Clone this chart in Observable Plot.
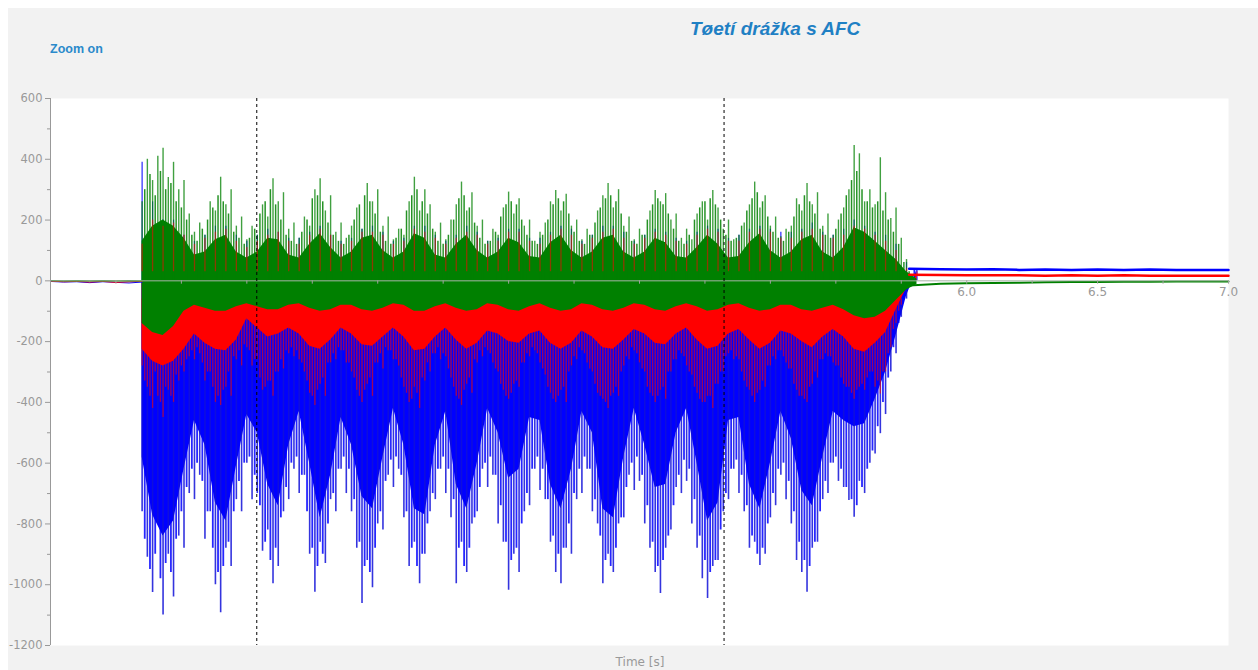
<!DOCTYPE html>
<html><head><meta charset="utf-8">
<script src="https://cdn.jsdelivr.net/npm/d3@7"></script>
<script src="https://cdn.jsdelivr.net/npm/@observablehq/plot@0.6"></script>
<style>
body{margin:0;background:#fff;}
#bg{position:absolute;left:8px;top:8px;width:1250px;height:662px;background:#f2f2f2;}
#title{position:absolute;left:690px;top:19px;font:italic bold 19px "Liberation Sans",Arial,sans-serif;color:#1f80c4;line-height:19px;white-space:nowrap;}
#zoom{position:absolute;left:50px;top:43px;font:bold 12.5px "Liberation Sans",Arial,sans-serif;color:#2b8acb;line-height:12.5px;white-space:nowrap;}
#xlabel{position:absolute;left:540px;width:200px;top:656px;text-align:center;font:12px "DejaVu Sans",sans-serif;color:#999;line-height:12px;}
#chart{position:absolute;left:8px;top:78px;}
</style></head><body>
<div id="bg"></div>
<div id="title">Tøetí drážka s AFC</div>
<div id="zoom">Zoom on</div>
<div id="chart"></div>
<div id="xlabel">Time [s]</div>
<script>
// sampling grids (seconds)
const fineStart = 2.85, fineStep = 0.02;   // first spike set
const fine2Start = 2.86;                    // second spike set, same step
const coarseStart = 2.85, coarseStep = 0.04;
const preStart = 2.5, preStep = 0.05;
const tailTimes = [5.78,5.9,6.0,6.1,6.2,6.3,6.4,6.5,6.6,6.7,6.8,6.9,7.0];

// green series: upward spike tips
const greenHi = [
 260,400,330,410,436,340,390,300,330,220,
 160,190,150,260,230,341,250,300,180,210,
 135,180,150,250,210,336,260,290,170,190,
 140,210,180,300,336,230,280,160,190,140,
 180,240,170,320,260,300,180,210,135,170,
 150,260,341,230,300,250,160,190,135,200,
 250,325,230,290,180,200,130,170,150,240,
 292,220,270,180,200,130,160,190,260,297,
 230,285,180,200,135,170,150,230,280,320,
 240,300,180,210,135,170,150,230,297,260,
 287,200,220,140,170,135,220,260,200,297,
 240,170,200,135,150,190,250,325,240,280,
 180,210,145,170,180,270,230,320,250,290,
 180,220,150,200,240,300,445,418,260,300,
 250,405,290,205,240,140,70,20];
const greenHi2 = [
 300,350,280,360,300,320,260,240,200,150,
 130,170,200,240,280,260,220,160,140,120,
 140,170,220,260,300,250,200,150,130,120,
 160,200,270,280,260,190,150,130,120,150,
 200,250,280,260,220,160,130,120,140,170,
 230,280,300,260,220,170,130,120,150,200,
 270,280,240,190,140,120,130,160,210,250,
 260,250,200,150,130,120,150,200,250,270,
 260,220,160,130,120,150,190,240,270,280,
 260,220,160,130,120,150,200,250,270,250,
 220,170,130,120,150,200,240,260,270,250,
 200,150,130,140,180,230,270,290,260,210,
 160,140,130,160,210,250,280,260,220,170,
 150,140,170,220,280,330,360,300,260,240,
 260,230,200,160,120,60,30,10];
// red series: downward spike tips
const redLo = [
 -280,-350,-420,-380,-450,-360,-400,-330,-300,-250,
 -260,-240,-330,-300,-400,-410,-350,-380,-260,-280,
 -220,-280,-260,-360,-330,-380,-300,-290,-240,-250,
 -260,-300,-370,-410,-340,-380,-270,-260,-230,-270,
 -300,-360,-400,-340,-380,-270,-290,-230,-260,-280,
 -350,-400,-350,-420,-330,-300,-240,-260,-250,-320,
 -380,-410,-340,-370,-270,-250,-230,-270,-300,-360,
 -390,-340,-350,-270,-250,-230,-270,-310,-370,-400,
 -360,-400,-280,-260,-230,-270,-300,-370,-390,-420,
 -370,-380,-280,-260,-230,-270,-300,-370,-400,-360,
 -390,-300,-260,-240,-280,-310,-370,-400,-380,-420,
 -340,-300,-240,-260,-260,-330,-360,-400,-360,-350,
 -280,-260,-230,-270,-290,-360,-380,-400,-340,-320,
 -260,-250,-270,-280,-340,-350,-390,-350,-360,-300,
 -350,-372,-300,-220,-140,-80,-30,18];
const redLo2 = [
 -330,-380,-300,-400,-350,-380,-310,-280,-260,-230,
 -220,-270,-300,-350,-380,-360,-300,-250,-230,-210,
 -230,-260,-320,-350,-330,-300,-260,-230,-220,-230,
 -270,-330,-380,-360,-320,-270,-240,-220,-230,-270,
 -320,-380,-360,-320,-270,-240,-220,-230,-260,-320,
 -370,-390,-370,-320,-270,-240,-220,-240,-290,-350,
 -390,-360,-320,-260,-230,-220,-240,-290,-340,-380,
 -370,-330,-270,-240,-220,-240,-290,-350,-390,-380,
 -350,-300,-250,-220,-240,-290,-340,-380,-400,-380,
 -350,-300,-250,-220,-240,-290,-350,-380,-380,-350,
 -300,-260,-230,-250,-300,-350,-390,-400,-380,-340,
 -300,-250,-230,-250,-300,-350,-380,-370,-330,-280,
 -250,-230,-250,-290,-340,-380,-390,-350,-300,-260,
 -240,-250,-280,-320,-350,-370,-360,-340,-320,-300,
 -330,-300,-240,-160,-100,-50,10,17];
// blue series: downward spike tips
const blueLo = [
 -760,-910,-1026,-800,-1100,-900,-1040,-840,-880,-700,
 -720,-640,-850,-760,-1000,-1092,-880,-940,-720,-760,
 -600,-720,-700,-890,-820,-997,-940,-760,-720,-620,
 -700,-640,-900,-1025,-860,-930,-720,-760,-620,-700,
 -760,-880,-1062,-920,-1010,-800,-820,-640,-680,-620,
 -780,-940,-860,-997,-900,-760,-720,-620,-700,-780,
 -997,-860,-960,-800,-760,-620,-680,-640,-800,-860,
 -1018,-900,-960,-760,-740,-620,-690,-720,-860,-960,
 -997,-880,-900,-720,-700,-620,-760,-800,-997,-900,
 -960,-800,-780,-640,-690,-660,-800,-880,-960,-1029,
 -880,-820,-680,-700,-660,-800,-880,-980,-1045,-940,
 -920,-760,-720,-620,-700,-760,-880,-860,-937,-900,
 -780,-740,-640,-720,-800,-920,-960,-1025,-880,-860,
 -720,-700,-600,-660,-680,-723,-778,-660,-700,-600,
 -570,-503,-440,-300,-240,-120,-60,20];
const blueLo2 = [
 -850,-950,-900,-980,-930,-960,-850,-760,-680,-620,
 -600,-660,-760,-880,-960,-940,-860,-760,-660,-600,
 -580,-640,-740,-860,-920,-880,-780,-680,-600,-580,
 -640,-760,-880,-940,-900,-800,-700,-620,-580,-620,
 -720,-860,-940,-960,-880,-760,-660,-590,-580,-640,
 -760,-880,-940,-900,-800,-700,-620,-580,-620,-720,
 -880,-940,-880,-780,-680,-600,-580,-640,-740,-860,
 -920,-880,-800,-700,-620,-580,-620,-720,-840,-900,
 -880,-800,-700,-620,-580,-620,-720,-840,-920,-940,
 -880,-780,-680,-600,-580,-640,-740,-860,-940,-920,
 -840,-740,-640,-590,-620,-720,-840,-920,-960,-920,
 -820,-700,-620,-590,-640,-740,-840,-900,-880,-800,
 -700,-620,-600,-660,-760,-860,-920,-940,-860,-760,
 -660,-600,-580,-620,-680,-720,-740,-680,-620,-560,
 -480,-400,-320,-220,-140,-60,20,36];

// dense cores (coarse grid)
const greenCoreHi = [
 130,180,200,180,140,85,95,135,150,95,
 75,95,140,135,85,75,120,155,110,75,
 95,140,150,100,75,95,155,140,85,75,
 120,150,100,75,95,140,125,80,75,125,
 150,100,75,95,140,150,95,75,95,140,
 125,80,75,110,150,120,75,80,125,155,
 100,75,95,135,150,95,75,110,175,160,
 130,100,70,30,5];
const greenCoreLo = [
 -140,-170,-180,-150,-100,-80,-90,-100,-100,-85,
 -75,-85,-95,-95,-80,-75,-90,-100,-95,-80,
 -80,-95,-100,-90,-75,-80,-100,-100,-85,-75,
 -90,-100,-95,-75,-80,-95,-100,-85,-75,-90,
 -100,-95,-75,-80,-95,-100,-90,-75,-80,-95,
 -100,-85,-75,-85,-100,-95,-80,-75,-90,-100,
 -95,-80,-80,-95,-100,-90,-80,-95,-115,-125,
 -120,-100,-65,-30,-12];
const redCoreLo = [
 -225,-265,-280,-265,-225,-175,-205,-225,-230,-195,
 -125,-155,-185,-175,-155,-175,-215,-225,-195,-155,
 -175,-210,-215,-185,-155,-185,-230,-225,-185,-155,
 -195,-225,-205,-165,-175,-200,-205,-175,-165,-205,
 -225,-205,-165,-185,-220,-225,-195,-160,-175,-205,
 -210,-175,-155,-195,-225,-215,-175,-160,-195,-225,
 -205,-165,-175,-200,-220,-185,-160,-185,-225,-235,
 -205,-170,-95,-25,18];
const redHi = [
 120,200,180,190,150,120,140,160,170,130,
 110,130,150,160,130,120,150,170,150,120,
 130,160,160,150,120,130,170,160,140,120,
 140,160,150,120,130,160,160,130,120,150,
 170,150,120,140,160,170,140,120,140,160,
 150,130,120,150,170,160,130,130,160,170,
 160,140,140,160,170,150,140,150,180,170,
 150,130,100,40,20];
const blueCoreLo = [
 -580,-770,-840,-790,-620,-460,-540,-730,-790,-610,
 -440,-500,-670,-740,-540,-430,-600,-780,-640,-450,
 -540,-710,-750,-580,-420,-540,-750,-770,-540,-430,
 -670,-750,-600,-420,-500,-650,-620,-450,-460,-670,
 -750,-620,-430,-500,-750,-780,-580,-420,-540,-680,
 -670,-500,-420,-600,-790,-730,-460,-450,-670,-750,
 -600,-430,-520,-690,-740,-580,-430,-460,-480,-470,
 -390,-300,-180,-50,36];
const blueHi = [
 390,260,200,200,150,130,150,180,180,150,
 130,150,170,160,140,140,160,180,150,130,
 140,170,180,160,130,140,180,180,150,130,
 150,180,160,130,140,170,170,140,140,160,
 180,170,130,150,180,180,160,130,150,170,
 160,140,130,160,180,170,140,150,170,180,
 170,160,160,170,190,160,150,170,200,180,
 160,150,120,60,38];

// settled tails after the cut (5.78 s .. 7.0 s)
const blueTail  = [40,38,37,38,36,37,36,37,36,37,36,36,36];
const redTail   = [20,19,18,18,18,17,18,17,18,17,17,17,17];
const greenTail = [-15,-10,-8,-7,-6,-5,-4,-4,-3,-3,-2,-2,-2];
// quiet lead-in (2.5 s .. 2.85 s)
const preBlue  = [-2,-4,-3,-6,-3,-5,-7,-4];
const preRed   = [-1,-3,-2,-4,-2,-5,-3,-2];
const preGreen = [1,0,1,0,1,0,1,0];

// markers, axes
const cursorTimes = [3.288, 5.073];
const yMajorTicks = [-1200,-1000,-800,-600,-400,-200,0,200,400,600];
const yMinorTicks = [-1100,-900,-700,-500,-300,-100,100,300,500];
const xLabelTicks = [3.0,3.5,4.0,4.5,5.0,5.5,6.0,6.5,7.0];
const xMinorTicks = [2.75,3.0,3.25,3.5,3.75,4.0,4.25,4.5,4.75,5.0,5.25,5.5,5.75,6.0,6.25,6.5,6.75,7.0];

const r3 = v => Math.round(v * 1000) / 1000;
const fine = greenHi.map((g, i) => ({t: r3(fineStart + i * fineStep), gHi: g, rLo: redLo[i], bLo: blueLo[i]}));
const fine2 = greenHi2.map((g, i) => ({t: r3(fine2Start + i * fineStep), gHi: g, rLo: redLo2[i], bLo: blueLo2[i]}));
const coarse = greenCoreHi.map((g, i) => ({t: r3(coarseStart + i * coarseStep), gCH: g, gCL: greenCoreLo[i], rCL: redCoreLo[i], rHi: redHi[i], bCL: blueCoreLo[i], bHi: blueHi[i]}));
const tail = tailTimes.map((t, i) => ({t, b: blueTail[i], r: redTail[i], g: greenTail[i]}));
const pre = preBlue.map((b, i) => ({t: r3(preStart + i * preStep), b, r: preRed[i], g: preGreen[i]}));

const BLUE = "#0000ff", RED = "#ff0000", GREEN = "#008000";
const redDeep = d => d.rLo < -60;

const chart = Plot.plot({
  width: 1250, height: 577,
  marginTop: 20, marginLeft: 42, marginRight: 30, marginBottom: 10,
  style: {background: "transparent", fontFamily: "DejaVu Sans", fontSize: "11.5px", color: "#999"},
  x: {domain: [2.5, 7.0], axis: null},
  y: {domain: [-1200, 600], axis: null},
  marks: [
    Plot.frame({fill: "white", stroke: "none"}),
    Plot.text(xLabelTicks, {x: d => d, y: 0, text: d => d.toFixed(1), dy: 11, fill: "#999", fontSize: 12}),
    // blue
    Plot.areaY(coarse, {x: "t", y1: "bCL", y2: 0, fill: BLUE}),
    Plot.ruleX(fine2, {x: "t", y1: 0, y2: "bLo", stroke: BLUE, strokeOpacity: 0.85, strokeWidth: 1.8}),
    Plot.ruleX(fine, {x: "t", y1: 0, y2: "bLo", stroke: "#1010d8", strokeOpacity: 0.85, strokeWidth: 1.6}),
    Plot.ruleX(coarse, {x: "t", y1: 0, y2: "bHi", stroke: BLUE, strokeOpacity: 0.85, strokeWidth: 1.2}),
    // red
    Plot.areaY(coarse, {x: "t", y1: "rCL", y2: 0, fill: RED}),
    Plot.ruleX(fine2, {filter: redDeep, x: "t", y1: -60, y2: "rLo", stroke: RED, strokeOpacity: 0.6, strokeWidth: 1.3}),
    Plot.ruleX(fine, {filter: redDeep, x: "t", y1: -60, y2: "rLo", stroke: RED, strokeOpacity: 0.6, strokeWidth: 1.3}),
    // green
    Plot.areaY(coarse, {x: "t", y1: "gCL", y2: "gCH", fill: GREEN}),
    Plot.ruleX(fine2, {x: "t", y1: 0, y2: "gHi", stroke: GREEN, strokeOpacity: 0.85, strokeWidth: 1.5}),
    Plot.ruleX(fine, {x: "t", y1: 0, y2: "gHi", stroke: GREEN, strokeOpacity: 0.75, strokeWidth: 1.4}),
    Plot.ruleX(coarse, {x: "t", y1: 30, y2: "rHi", stroke: RED, strokeOpacity: 0.55, strokeWidth: 1.3}),
    // lead-in and tails
    Plot.lineY(pre, {x: "t", y: "b", stroke: BLUE, strokeWidth: 1}),
    Plot.lineY(pre, {x: "t", y: "r", stroke: RED, strokeWidth: 1}),
    Plot.lineY(pre, {x: "t", y: "g", stroke: GREEN, strokeWidth: 1.2}),
    Plot.lineY(tail, {x: "t", y: "b", stroke: BLUE, strokeWidth: 2.5}),
    Plot.lineY(tail, {x: "t", y: "r", stroke: RED, strokeWidth: 2.5}),
    Plot.lineY(tail, {x: "t", y: "g", stroke: GREEN, strokeWidth: 2}),
    // zero axis and ticks
    Plot.ruleY([0], {stroke: "#a4b4a4", strokeWidth: 1}),
    Plot.ruleX(xMinorTicks, {x: d => d, y1: 0, y2: -11, stroke: "#a0a0a0"}),
    // cursors
    Plot.ruleX(cursorTimes, {x: d => d, stroke: "black", strokeWidth: 1, strokeDasharray: "3,3"}),
    // y axis
    Plot.ruleX([2.5], {stroke: "#999"}),
    Plot.axisY(yMajorTicks, {tickSize: 5, tickPadding: 3, tickFormat: d => String(d), stroke: "#999", fill: "#999", label: null}),
    Plot.axisY(yMinorTicks, {tickSize: 3, tickFormat: () => "", stroke: "#999", label: null})
  ]
});
document.getElementById("chart").appendChild(chart);
</script>
</body></html>
